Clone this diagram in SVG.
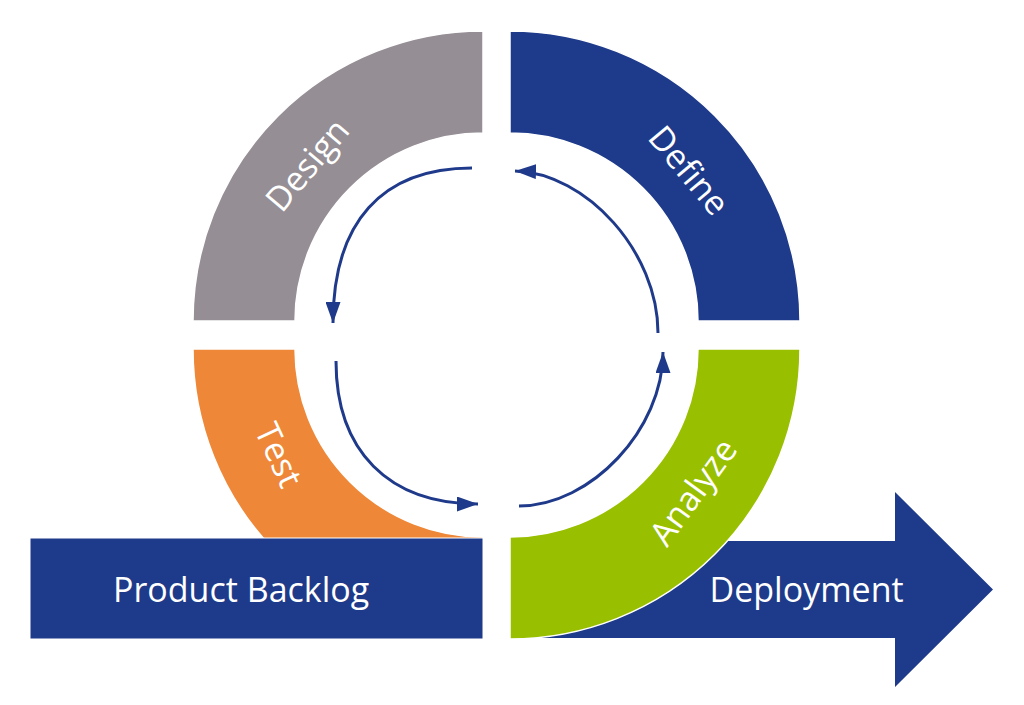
<svg xmlns="http://www.w3.org/2000/svg" width="1024" height="705" viewBox="0 0 1024 705">
<defs>
<style>
.lbl{font-family:"Open Sans","Liberation Sans",sans-serif;font-size:34px;fill:#ffffff}
.seg{stroke:#ffffff;stroke-width:1.5}
.flow{fill:none;stroke:#1F3A8A;stroke-width:3;marker-end:url(#ah)}
</style>
<marker id="ah" markerUnits="userSpaceOnUse" markerWidth="21" markerHeight="15" refX="21" refY="7.5" orient="auto">
<path d="M0,0 L21,7.5 L0,15 Z" fill="#1F3A8A"/>
</marker>
</defs>
<rect width="1024" height="705" fill="#ffffff"/>
<g id="deployment">
<polygon points="512,541 895,541 895,492 993,589.5 895,687 895,638 512,638" fill="#1E3A8A"/>
<text class="lbl" x="709.5" y="601.7">Deployment</text>
</g>
<g id="design">
<path class="seg" d="M193,321 A290,290 0 0 1 483,31 L483,133 A188,188 0 0 0 295,321 Z" fill="#958E95"/>
<text class="lbl" text-anchor="middle" transform="translate(316.4,172.7) rotate(-50)">Design</text>
</g>
<g id="define">
<path class="seg" d="M510,31 A290,290 0 0 1 800,321 L698,321 A188,188 0 0 0 510,133 Z" fill="#1E3A8A"/>
<text class="lbl" text-anchor="middle" transform="translate(679.8,178.1) rotate(50)">Define</text>
</g>
<g id="test">
<path class="seg" d="M193,349 A290,290 0 0 0 483,639 L483,537 A188,188 0 0 1 295,349 Z" fill="#EE8838"/>
<text class="lbl" text-anchor="middle" transform="translate(268,460) rotate(65)">Test</text>
</g>
<g id="analyze">
<path class="seg" d="M800,349 A290,290 0 0 1 510,639 L510,537 A188,188 0 0 0 698,349 Z" fill="#99C000"/>
<text class="lbl" text-anchor="middle" transform="translate(702.8,498.9) rotate(-54)">Analyze</text>
</g>
<g id="product-backlog">
<rect x="30" y="538" width="453" height="101" fill="#1E3A8A" stroke="#ffffff" stroke-width="1"/>
<text class="lbl" x="113" y="601.7">Product Backlog</text>
</g>
<g id="connectors">
<path class="flow" d="M472,168 C381.7,168 333,222.3 333,323"/>
<path class="flow" d="M658,333 C658,252 586.5,173 515,171"/>
<path class="flow" d="M336,361 C336,451 388.5,504 478,504"/>
<path class="flow" d="M519,506 C591,506 663,429 663,352"/>
</g>
</svg>
